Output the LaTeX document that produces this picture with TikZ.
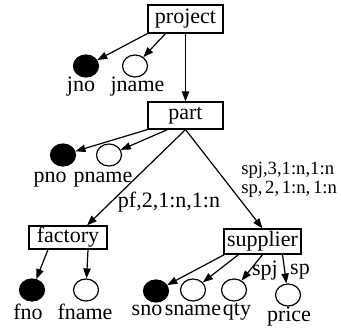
\documentclass[tikz,border=0pt]{standalone}
\usepackage{fontspec}
\setmainfont{Liberation Serif}
\usetikzlibrary{arrows.meta,calc,shapes.geometric}
\newcommand\entfont{\fontsize{16.5}{19}\selectfont}
\newcommand\relfont{\fontsize{14}{16}\selectfont}
\newcommand\tsp{\hspace{2pt}}
\begin{document}
\begin{tikzpicture}[x=0.75pt,y=-0.75pt,
  ent/.style={draw,line width=0.9pt,inner sep=0pt,font=\entfont},
  attr/.style={draw,ellipse,line width=0.9pt,inner sep=0pt,
    minimum width=18.75pt,minimum height=16.5pt},
  keyattr/.style={attr,fill=black},
  attrname/.style={anchor=base,inner sep=0pt,font=\entfont},
  rellabel/.style={anchor=base west,inner sep=0pt,font=\relfont},
  edgename/.style={anchor=base,inner sep=0pt,font=\entfont},
  link/.style={line width=0.9pt,-{Triangle[length=7.5pt,width=5.5pt]}}]
\useasboundingbox (0,0) rectangle (341,327);

% entities
\node[ent,minimum width=56.25pt,minimum height=21pt] (project) at (185.5,19) {project};
\node[ent,minimum width=56.25pt,minimum height=20.25pt] (part) at (185.5,115.5) {part};
\node[ent,minimum width=58.5pt,minimum height=17.25pt] (factory) at (68,237.5) {factory};
\node[ent,minimum width=57.75pt,minimum height=18.75pt] (supplier) at (262.5,241.5) {supplier};

% attributes
\node[keyattr] (jno) at (86,66) {};
\node[attr] (jname) at (135,66) {};
\node[keyattr] (pno) at (63,155) {};
\node[attr] (pname) at (109,155) {};
\node[keyattr] (fno) at (32,290) {};
\node[attr] (fname) at (86,290) {};
\node[keyattr] (sno) at (156,291) {};
\node[attr] (sname) at (193,290) {};
\node[attr] (qty) at (234,290) {};
\node[attr] (price) at (288,295) {};

% attribute names
\node[attrname] (jnoT) at (81,92) {jno};
\node[attrname] (jnameT) at (137.5,92) {jname};
\node[attrname] (pnoT) at (50,182) {pno};
\node[attrname] (pnameT) at (103,182) {pname};
\node[attrname] (fnoT) at (28,319) {fno};
\node[attrname] (fnameT) at (85,319) {fname};
\node[attrname] (snoT) at (147,315) {sno};
\node[attrname] (snameT) at (193,315) {sname};
\node[attrname] (qtyT) at (237,315) {qty};
\node[attrname] (priceT) at (289,321) {price};

% relationship labels
\node[anchor=base,inner sep=0pt,font=\entfont] (pf) at (169,207) {pf,2,1:n,1:n};
\node[rellabel] (spj) at (241,175) {spj,3,1:n,1:n};
\node[rellabel] (sp) at (241,193) {sp,\tsp2,\tsp1:n,\tsp1:n};
\node[edgename] (spjT) at (265,275) {spj};
\node[edgename] (spT) at (300,274) {sp};

% connectors
\draw[link] (project.south) -- (part.north);
\draw[link] (project.south west) -- (jno);
\draw[link] ($(project.south)+(-20,0)$) -- (jname);
\draw[link] (part.south west) -- (pno);
\draw[link] ($(part.south)+(-18,0)$) -- (pname);
\draw[link] (part.south) -- ($(factory.north)+(19,0)$);
\draw[link] (part.south) -- (supplier.north);
\draw[link] ($(factory.south)+(-20,0)$) -- (fno);
\draw[link] ($(factory.south)+(20,0)$) -- (fname);
\draw[link] ($(supplier.south west)+(1,0)$) -- (sno);
\draw[link] ($(supplier.south)+(-24,0)$) -- (sname);
\draw[link] (supplier.south) -- (qty);
\draw[link] ($(supplier.south)+(20,0)$) -- (price);
\end{tikzpicture}
\end{document}
